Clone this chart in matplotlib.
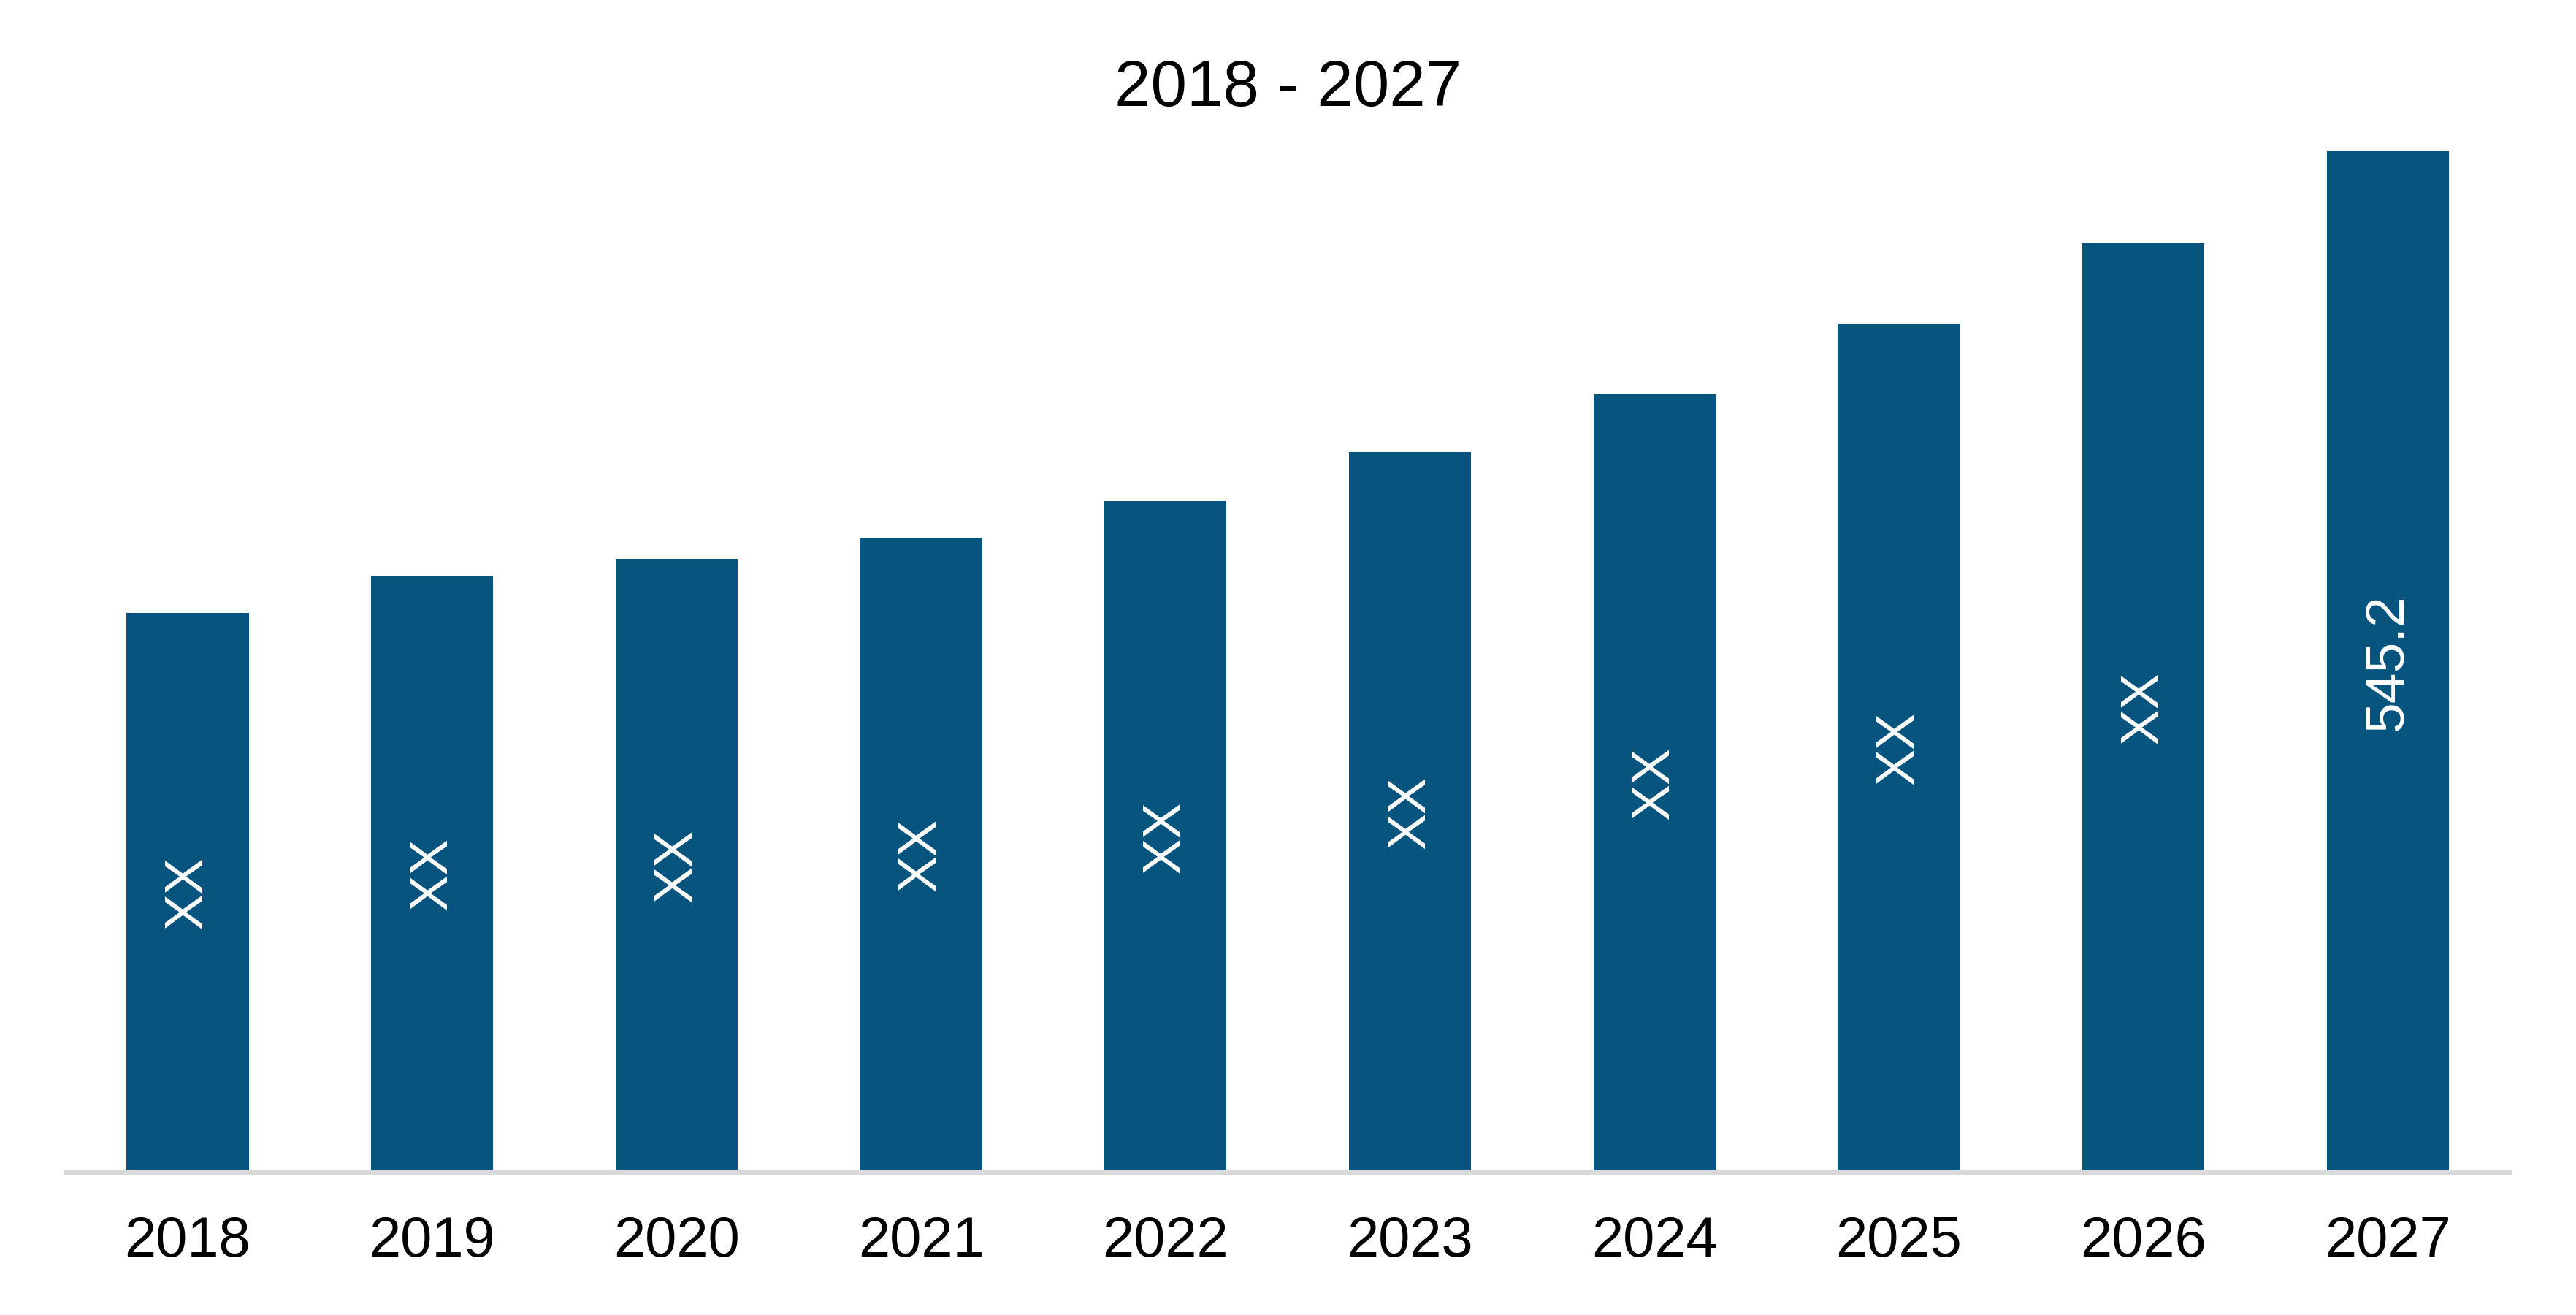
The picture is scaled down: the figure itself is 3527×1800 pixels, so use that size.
import matplotlib.pyplot as plt
import numpy as np

# chart data
years = ['2018', '2019', '2020', '2021', '2022', '2023', '2024', '2025', '2026', '2027']
values = [298.5, 318.7, 327.5, 338.9, 358.2, 384.5, 415.3, 453.0, 496.0, 545.2]
bar_labels = ['XX', 'XX', 'XX', 'XX', 'XX', 'XX', 'XX', 'XX', 'XX', '545.2']
title = '2018 - 2027'

plt.rcParams['font.family'] = ['Liberation Sans', 'DejaVu Sans']

fig = plt.figure(figsize=(17.635, 9.0), dpi=200)
ax = fig.add_axes([0.0254, 0.1085, 0.949, 0.8545])

x = np.arange(len(years))
bars = ax.bar(x, values, width=0.5, color='#07547f')

# labels in the middle of each bar, rotated
for rect, lab in zip(bars, bar_labels):
    h = rect.get_height()
    ax.text(rect.get_x() + rect.get_width() / 2, h / 2, lab,
            rotation=90, ha='center', va='center', color='white', fontsize=27)

ax.set_xlim(-0.5, 9.5)
ax.set_ylim(0, 600)
ax.set_xticks(x)
ax.set_xticklabels(years, fontsize=28)
ax.tick_params(axis='x', length=0, pad=21)
ax.set_yticks([])

for s in ['top', 'right', 'left']:
    ax.spines[s].set_visible(False)
ax.spines['bottom'].set_color('#d9d9d9')
ax.spines['bottom'].set_linewidth(2.2)

fig.text(0.5, 0.932, title, ha='center', va='center', fontsize=32)

fig.savefig('out.png', dpi=200, facecolor='white')
